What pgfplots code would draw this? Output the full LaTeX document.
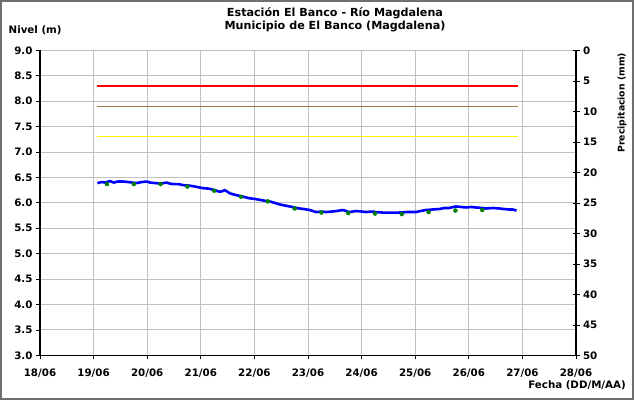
\documentclass[border=0pt]{standalone}
\usepackage{fontspec}
\setmainfont{DejaVu Sans}
\usepackage{pgfplots}
\pgfplotsset{compat=1.18}
\definecolor{gridgray}{HTML}{C0C0C0}
\definecolor{brownline}{HTML}{A07850}
\definecolor{dotgreen}{HTML}{008000}
\definecolor{framegray}{HTML}{707070}
\newcommand{\lbl}{\fontsize{10.3}{12}\bfseries\selectfont}
\begin{document}
\begin{tikzpicture}
\useasboundingbox (-40bp,-44.6bp) rectangle (594bp,355.4bp);
\draw[framegray, line width=1.5bp] (-39bp,-43.6bp) rectangle (593bp,354.4bp);
\begin{axis}[
  at={(0,0)}, anchor=south west,
  scale only axis, width=536bp, height=305bp,
  xmin=18, xmax=28, ymin=3, ymax=9,
  axis x line*=bottom, axis y line*=left,
  axis line style={black, line width=1.2bp},
  xtick={18,19,20,21,22,23,24,25,26,27,28},
  xticklabels={18/06,19/06,20/06,21/06,22/06,23/06,24/06,25/06,26/06,27/06,28/06},
  ytick={3,3.5,4,4.5,5,5.5,6,6.5,7,7.5,8,8.5,9},
  tick align=outside,
  major tick length=4bp,
  tick style={black, line width=0.8bp},
  grid=major,
  major grid style={gridgray, line width=1bp},
  /pgf/number format/assume math mode=true,
  yticklabel style={/pgf/number format/.cd, fixed, fixed zerofill, precision=1},
  xticklabel style={yshift=-6bp},
  ticklabel style={font=\lbl},
  clip=false,
]
\addplot[red, line width=1.1bp] coordinates {(19.07,8.3) (26.91,8.3)};
\addplot[brownline, line width=1.1bp] coordinates {(19.07,7.9) (26.91,7.9)};
\addplot[yellow, line width=1.1bp] coordinates {(19.07,7.3) (26.91,7.3)};
\addplot[blue, line width=2.6bp, line join=round] coordinates {
(19.07,6.39)(19.15,6.41)(19.22,6.40)(19.30,6.43)(19.38,6.40)(19.45,6.42)
(19.55,6.42)(19.65,6.41)(19.72,6.40)(19.80,6.39)(19.90,6.41)(20.00,6.42)
(20.05,6.40)(20.15,6.39)(20.25,6.38)(20.36,6.40)(20.42,6.38)(20.48,6.37)
(20.58,6.37)(20.67,6.35)(20.79,6.34)(20.90,6.32)(21.04,6.29)(21.15,6.28)
(21.23,6.26)(21.35,6.22)(21.40,6.23)(21.45,6.25)(21.54,6.19)(21.63,6.16)
(21.72,6.14)(21.80,6.12)(21.91,6.09)(22.00,6.08)(22.10,6.06)(22.20,6.04)
(22.28,6.03)(22.38,6.00)(22.47,5.97)(22.56,5.95)(22.66,5.93)(22.75,5.91)
(22.84,5.89)(22.92,5.88)(23.03,5.86)(23.15,5.82)(23.25,5.83)(23.34,5.82)
(23.45,5.83)(23.53,5.84)(23.65,5.86)(23.77,5.82)(23.90,5.84)(24.00,5.83)
(24.08,5.82)(24.20,5.83)(24.27,5.82)(24.39,5.81)(24.55,5.81)(24.70,5.81)
(24.85,5.82)(25.01,5.82)(25.10,5.84)(25.20,5.86)(25.32,5.87)(25.45,5.88)
(25.55,5.90)(25.63,5.90)(25.76,5.93)(25.85,5.92)(25.95,5.91)(26.05,5.92)
(26.13,5.91)(26.25,5.90)(26.32,5.89)(26.45,5.90)(26.57,5.89)(26.65,5.88)
(26.75,5.87)(26.82,5.87)(26.89,5.85)};
\addplot[only marks, mark=*, mark size=2bp, dotgreen] coordinates {
(19.25,6.37)(19.75,6.37)(20.25,6.37)(20.75,6.32)(21.25,6.24)(21.75,6.12)
(22.25,6.03)(22.75,5.89)(23.25,5.81)(23.75,5.80)(24.25,5.79)(24.75,5.78)
(25.25,5.82)(25.75,5.85)(26.25,5.86)};
\end{axis}
\begin{axis}[
  at={(0,0)}, anchor=south west,
  scale only axis, width=536bp, height=305bp,
  xmin=18, xmax=28, ymin=0, ymax=50,
  y dir=reverse,
  axis x line=none, axis y line*=right,
  axis line style={black, line width=1.2bp},
  ytick={0,5,10,15,20,25,30,35,40,45,50},
  tick align=center,
  major tick length=7bp,
  tick style={black, line width=0.8bp},
  /pgf/number format/assume math mode=true,
  ticklabel style={font=\lbl},
]
\addplot[draw=none] coordinates {(18,0)};
\end{axis}
\node[font=\fontsize{11.2}{12.8}\bfseries\selectfont, align=center, inner sep=0pt] at (295bp,336bp) {Estación El Banco - Río Magdalena\\Municipio de El Banco (Magdalena)};
\node[font=\lbl, anchor=west, inner sep=0pt] at (-31.5bp,325.6bp) {Nivel (m)};
\node[font=\fontsize{9.3}{11}\bfseries\selectfont, rotate=90, inner sep=0pt] at (582bp,252.6bp) {Precipitacion (mm)};
\node[font=\lbl, anchor=east, inner sep=0pt] at (586bp,-30bp) {Fecha (DD/M/AA)};
\end{tikzpicture}
\end{document}
